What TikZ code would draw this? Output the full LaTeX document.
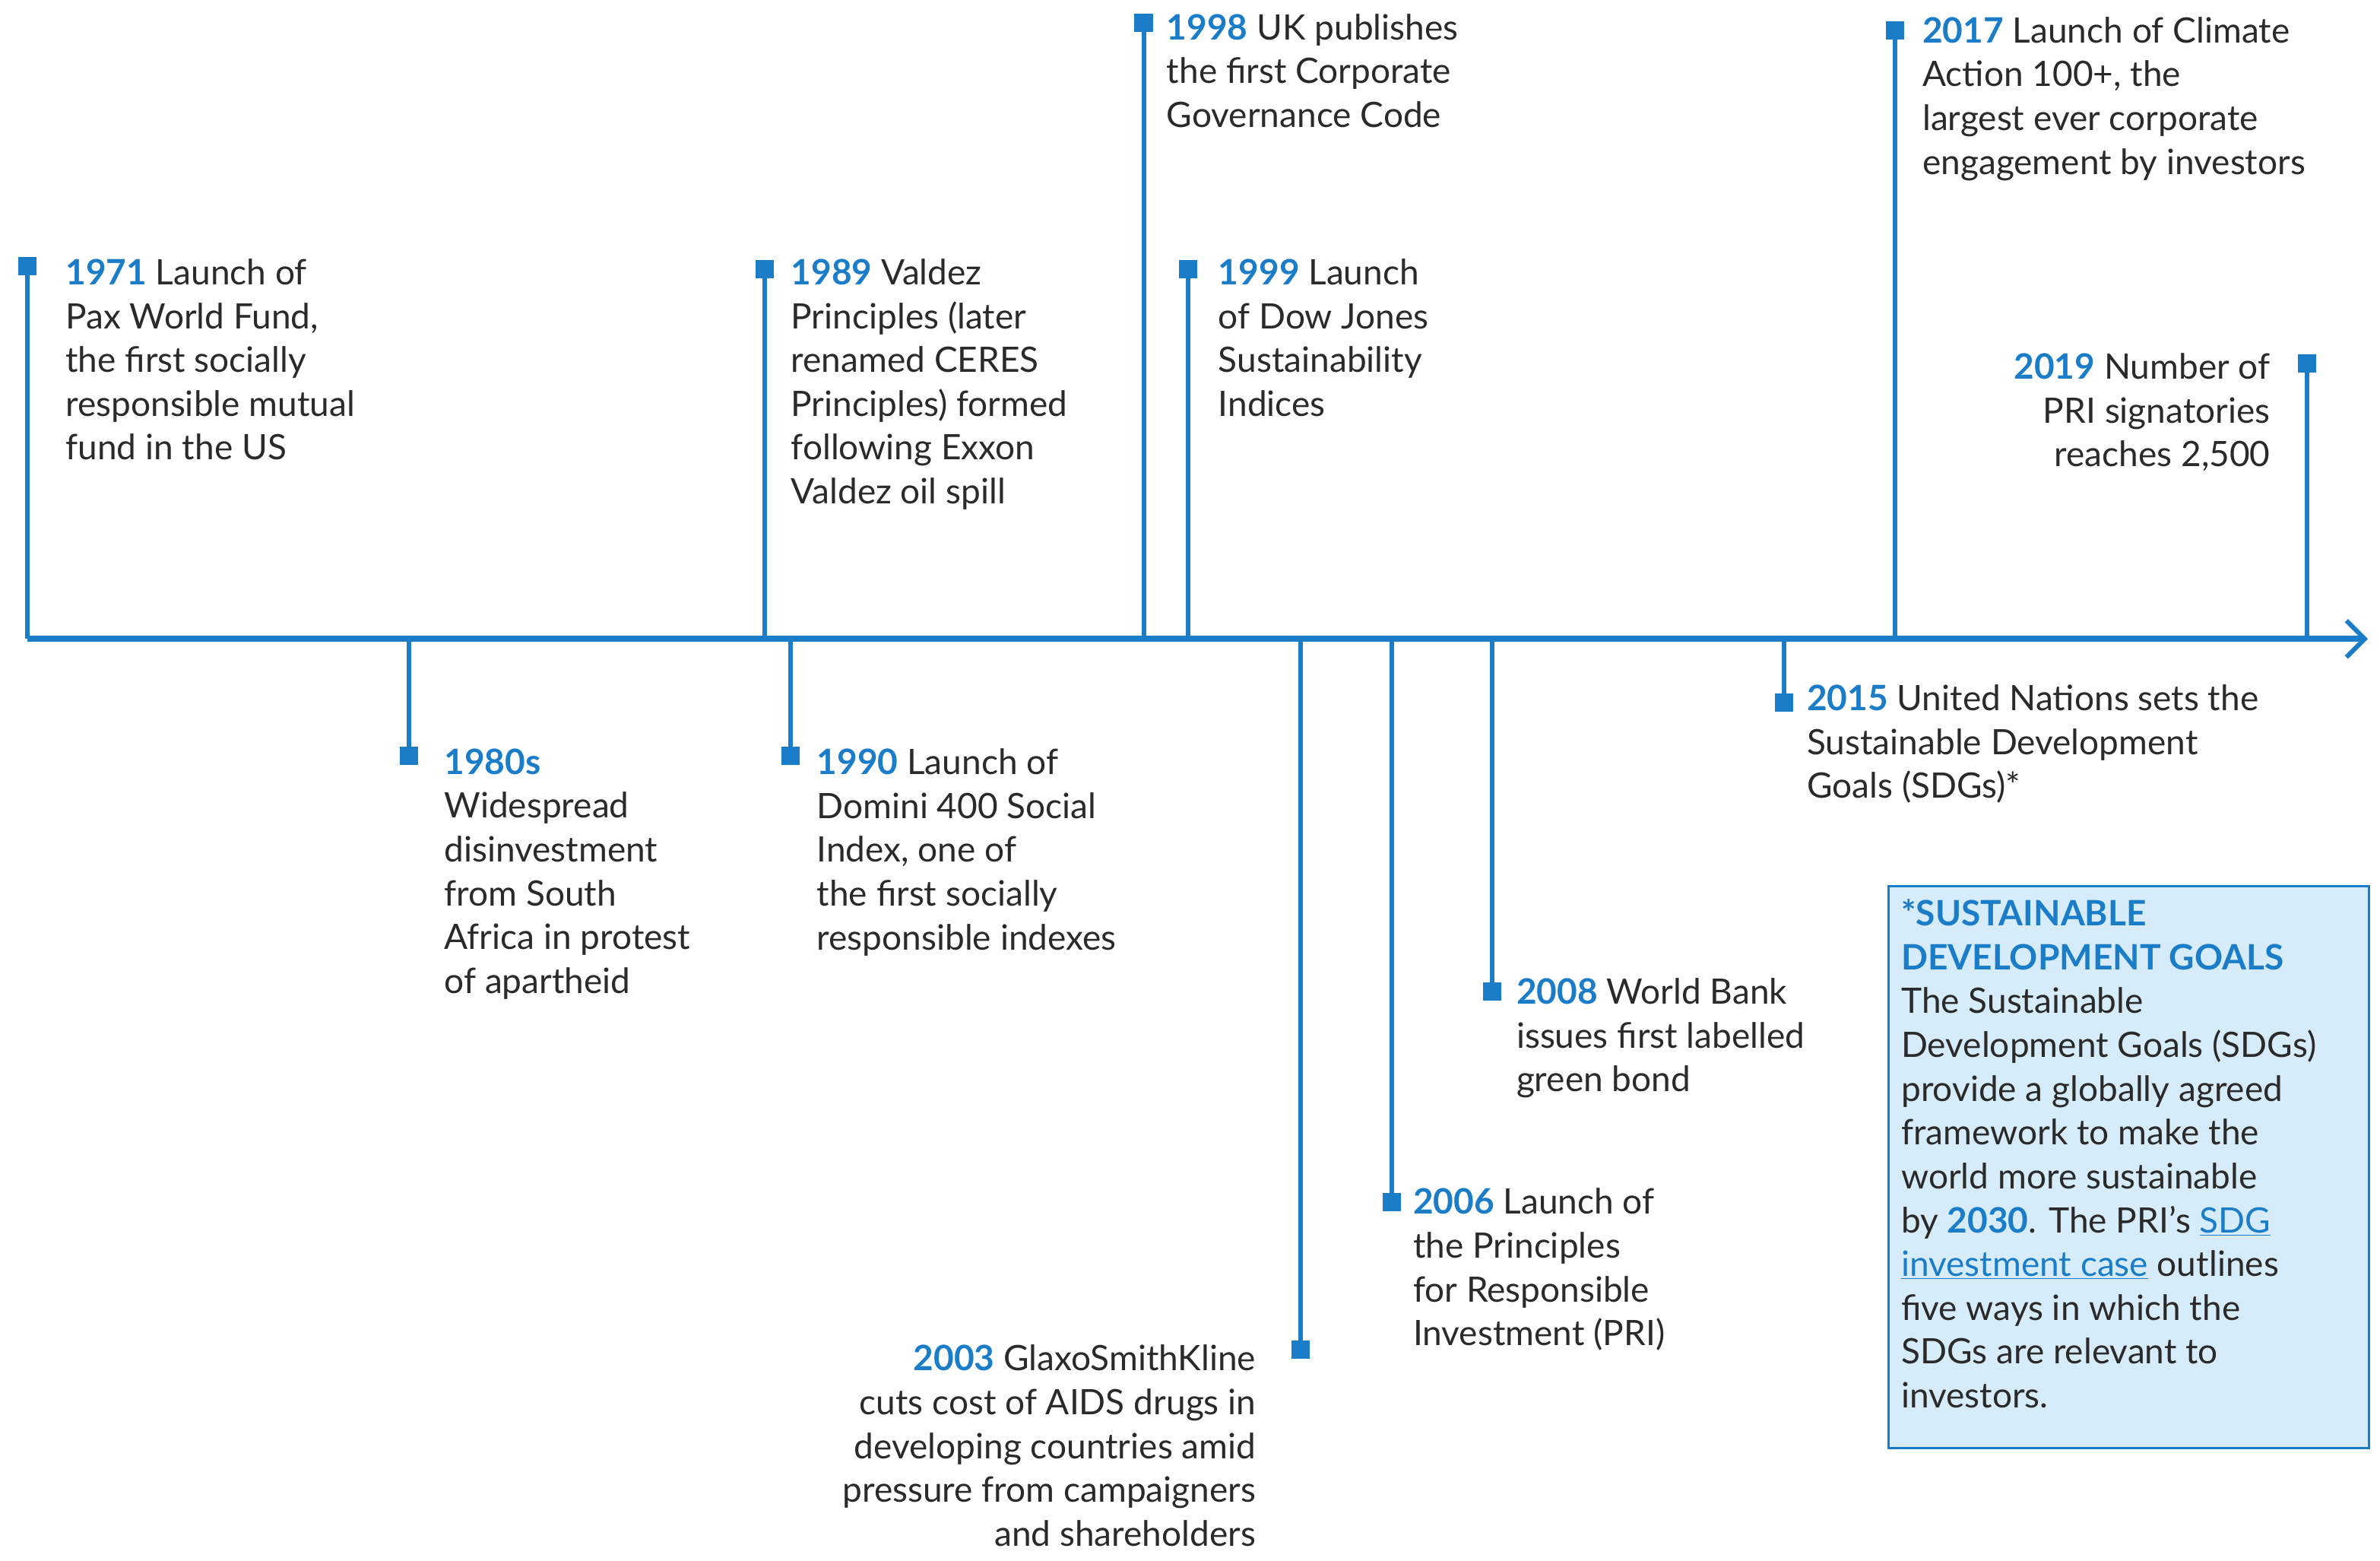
\documentclass[tikz,border=0pt]{standalone}
\usepackage{fontspec}
\setmainfont{Lato}
\usetikzlibrary{arrows.meta}
\definecolor{pblue}{HTML}{1B7DC8}
\definecolor{boxfill}{HTML}{D7ECFA}
\definecolor{txt}{HTML}{2A2A2A}
\newcommand{\yr}[1]{{\bfseries\color{pblue}#1}}
\begin{document}
\begin{tikzpicture}[x=1pt,y=-1pt,
  stem/.style={draw=pblue,line width=3pt},
  mk/.style={fill=pblue,minimum size=12pt,inner sep=0pt,draw=none},
  ev/.style={inner sep=0pt,align=left,text=txt,font=\fontsize{23}{28.8}\selectfont},
  evr/.style={ev,align=right}]
\useasboundingbox (0,0) rectangle (1565,1026);
\coordinate (a0) at (18,420);
\coordinate (a1) at (1557,420);
\draw[pblue,line width=4pt,-{Straight Barb[length=12pt,width=24pt,line width=3pt]}] (a0) -- (a1);
\foreach \n/\x/\t in {e71/18/175,e89/503/177,e98/752/15,e99/781/177,e17/1246/20,e19/1517/239}{
  \node[mk] (\n m) at (\x,\t) {};
  \coordinate (\n b) at (\x,420);
  \draw[stem] (\n m.center) -- (\n b);
}
\foreach \n/\x/\t in {e80/269/497,e90/520/497,e03/855/887,e06/915/790,e08/981/652,e15/1173/462}{
  \node[mk] (\n m) at (\x,\t) {};
  \coordinate (\n b) at (\x,420);
  \draw[stem] (\n b) -- (\n m.center);
}
\node[ev,anchor=north west] (t71) at (43,170) {\yr{1971} Launch of\\Pax World Fund,\\the first socially\\responsible mutual\\fund in the US};
\node[ev,anchor=north west] (t80) at (292,492) {\yr{1980s}\\Widespread\\disinvestment\\from South\\Africa in protest\\of apartheid};
\node[ev,anchor=north west] (t89) at (520,170) {\yr{1989} Valdez\\Principles (later\\renamed CERES\\Principles) formed\\following Exxon\\Valdez oil spill};
\node[ev,anchor=north west] (t90) at (537,492) {\yr{1990} Launch of\\Domini 400 Social\\Index, one of\\the first socially\\responsible indexes};
\node[ev,anchor=north west] (t98) at (767,9) {\yr{1998} UK publishes\\the first Corporate\\Governance Code};
\node[ev,anchor=north west] (t99) at (801,170) {\yr{1999} Launch\\of Dow Jones\\Sustainability\\Indices};
\node[evr,anchor=north east] (t03) at (826,884) {\yr{2003} GlaxoSmithKline\\cuts cost of AIDS drugs in\\developing countries amid\\pressure from campaigners\\and shareholders};
\node[ev,anchor=north west] (t06) at (929,781) {\yr{2006} Launch of\\the Principles\\for Responsible\\Investment (PRI)};
\node[ev,anchor=north west] (t08) at (997,643) {\yr{2008} World Bank\\issues first labelled\\green bond};
\node[ev,anchor=north west] (t15) at (1188,450) {\yr{2015} United Nations sets the\\Sustainable Development\\Goals (SDGs)*};
\node[ev,anchor=north west] (t17) at (1264,11) {\yr{2017} Launch of Climate\\Action 100+, the\\largest ever corporate\\engagement by investors};
\node[evr,anchor=north east] (t19) at (1493,232) {\yr{2019} Number of\\PRI signatories\\reaches 2,500};
\node[draw=pblue,line width=1.5pt,fill=boxfill,minimum width=316pt,minimum height=369pt,anchor=north west] (bx) at (1241,582) {};
\node[ev,anchor=north west] (bxt) at (1250,591) {\yr{*SUSTAINABLE}\\\yr{DEVELOPMENT GOALS}\\The Sustainable\\Development Goals (SDGs)\\provide a globally agreed\\framework to make the\\world more sustainable\\by \yr{2030}. The PRI's \textcolor{pblue}{\underline{SDG}}\\\textcolor{pblue}{\underline{investment case}} outlines\\five ways in which the\\SDGs are relevant to\\investors.};
\end{tikzpicture}
\end{document}
